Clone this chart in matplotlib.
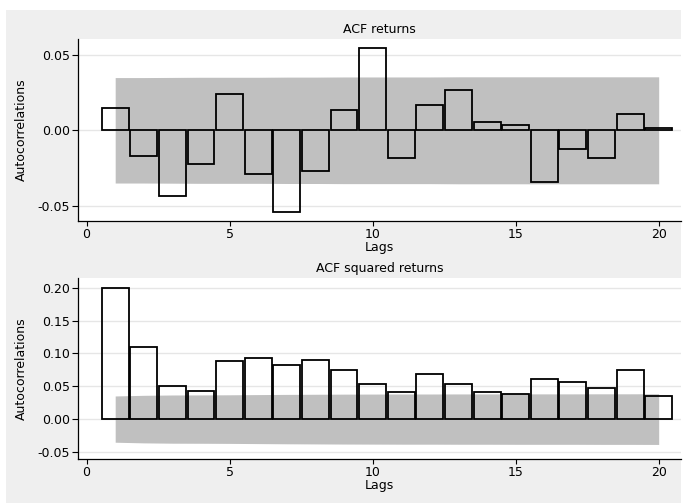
import matplotlib
matplotlib.use('Agg')
import matplotlib.pyplot as plt
from matplotlib.patches import Rectangle
import numpy as np

plt.rcParams['font.family'] = 'DejaVu Sans'
plt.rcParams['axes.unicode_minus'] = False

# Лаги и значения автокорреляций
lags = list(range(1, 21))

acf_returns = [0.0145, -0.0172, -0.0433, -0.0221, 0.0239, -0.0290, -0.0545, -0.0268,
               0.0134, 0.0545, -0.0183, 0.0167, 0.0270, 0.0056, 0.0038, -0.0342,
               -0.0121, -0.0181, 0.0109, 0.0013]
band_returns = [0.0350, 0.0350, 0.0351, 0.0352, 0.0352, 0.0352, 0.0353, 0.0353,
                0.0354, 0.0354, 0.0354, 0.0354, 0.0355, 0.0355, 0.0355, 0.0355,
                0.0355, 0.0355, 0.0355, 0.0355]

acf_squared = [0.2000, 0.1094, 0.0509, 0.0433, 0.0880, 0.0931, 0.0830, 0.0896,
               0.0753, 0.0529, 0.0412, 0.0687, 0.0529, 0.0412, 0.0387, 0.0606,
               0.0560, 0.0473, 0.0748, 0.0351]
band_squared = [0.0352, 0.0362, 0.0367, 0.0368, 0.0370, 0.0373, 0.0376, 0.0378,
                0.0380, 0.0381, 0.0382, 0.0382, 0.0383, 0.0383, 0.0384, 0.0384,
                0.0384, 0.0385, 0.0385, 0.0386]

fig = plt.figure(figsize=(6.83, 5.03), dpi=100, facecolor='white')
fig.patches.append(Rectangle((6 / 683, 0), 675 / 683, 493 / 503,
                             transform=fig.transFigure, facecolor='#efefef',
                             edgecolor='none', zorder=-10))

ax1 = fig.add_axes([78 / 683, 1 - 220.7 / 503, 603 / 683, 181.7 / 503])
ax2 = fig.add_axes([78 / 683, 1 - 458.7 / 503, 603 / 683, 180.7 / 503])


def draw_panel(ax, values, band, title, yticks, ylim):
    lo = [-b for b in band]
    ax.fill_between(lags, lo, band, color='#c0c0c0', linewidth=0, zorder=1)
    ax.bar(lags, values, width=0.94, fill=False, edgecolor='black',
           linewidth=1.3, zorder=3)
    ax.set_xlim(-0.3, 20.78)
    ax.set_ylim(*ylim)
    ax.set_yticks(yticks)
    ax.set_yticklabels([f'{t:.2f}' for t in yticks])
    ax.set_xticks([0, 5, 10, 15, 20])
    ax.grid(axis='y', color='#e6e6e6', linewidth=1.0, zorder=0)
    ax.set_axisbelow(True)
    for s in ['top', 'right']:
        ax.spines[s].set_visible(False)
    for s in ['left', 'bottom']:
        ax.spines[s].set_color('black')
        ax.spines[s].set_linewidth(0.9)
    ax.tick_params(axis='y', length=4, width=0.8, pad=1.5, labelsize=9, colors='black')
    ax.tick_params(axis='x', length=3.5, width=0.8, pad=1.5, labelsize=9, colors='black')
    ax.set_xlabel('Lags', fontsize=9, labelpad=0.5)
    ax.set_ylabel('Autocorrelations', fontsize=9, labelpad=7)
    ax.set_title(title, fontsize=9, pad=4.5)
    ax.set_facecolor('white')


draw_panel(ax1, acf_returns, band_returns, 'ACF returns',
           [-0.05, 0.00, 0.05], (-0.06, 0.0606))
draw_panel(ax2, acf_squared, band_squared, 'ACF squared returns',
           [-0.05, 0.00, 0.05, 0.10, 0.15, 0.20], (-0.0603, 0.2148))

fig.savefig('out.png', dpi=100)
